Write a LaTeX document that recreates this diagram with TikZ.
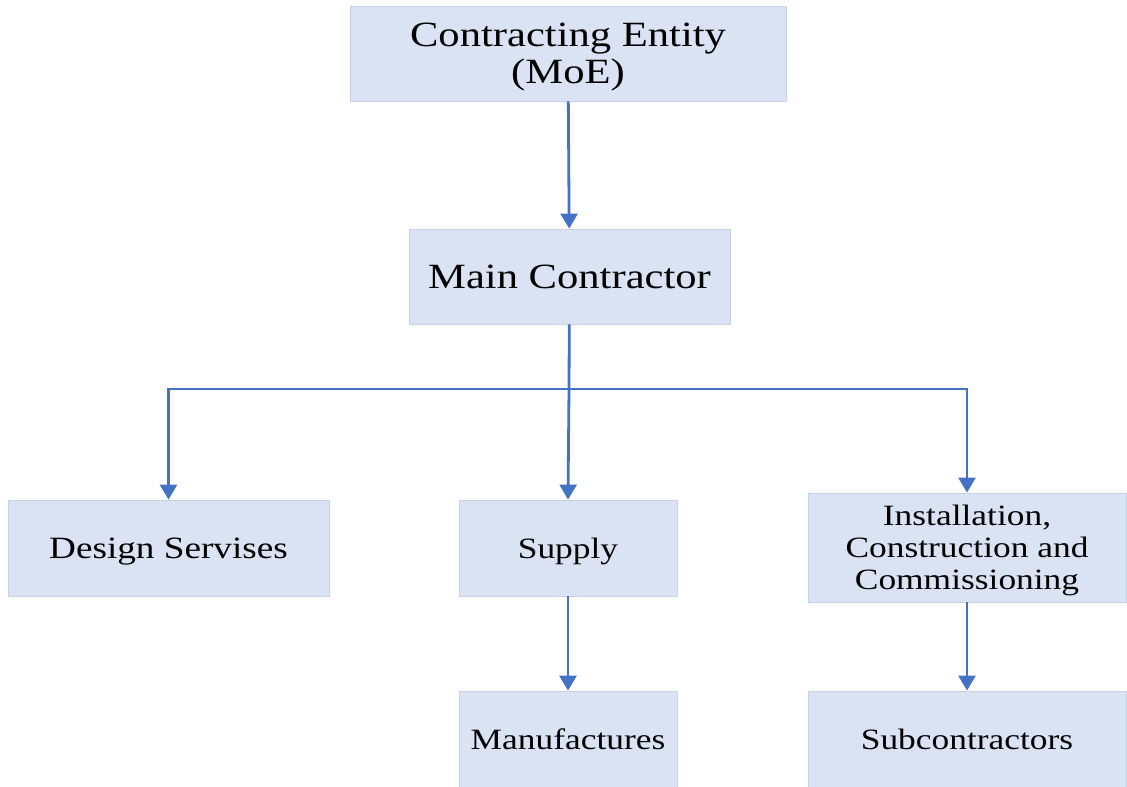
\documentclass[tikz,border=0pt]{standalone}
\usepackage{fontspec}
\setmainfont{Liberation Serif}[FakeStretch=1.2]
\usetikzlibrary{arrows.meta}

\definecolor{boxfill}{HTML}{DAE3F3}
\definecolor{boxline}{HTML}{C8D2E6}
\definecolor{linkblue}{HTML}{4472C4}

\tikzset{
  orgbox/.style={draw=boxline, line width=0.8pt, fill=boxfill, inner sep=0pt,
    align=center, text depth=0pt, font=\fontsize{29.5}{32}\selectfont},
  link/.style={draw=linkblue, line width=2.8pt,
    -{Triangle[length=15pt,width=17pt]}}
}

\begin{document}
\begin{tikzpicture}[x=1pt,y=-1pt]

      \useasboundingbox (0,0) rectangle (1127,787);

      % The contracting entity on top.
      \node [orgbox, minimum width=436pt, minimum height=95pt,
        font=\fontsize{35.5}{37}\selectfont] (ce) at (568,53.5)
        {Contracting Entity\\(MoE)};

      % The main contractor.
      \node [orgbox, minimum width=321pt, minimum height=95pt,
        font=\fontsize{35.5}{37}\selectfont] (mc) at (569.5,276.5)
        {Main Contractor};

      % The three branches.
      \node [orgbox, minimum width=321pt, minimum height=96pt,
        font=\fontsize{31}{32}\selectfont] (ds)
        at (168.5,548) {Design Servises};
      \node [orgbox, minimum width=218pt, minimum height=96pt] (sup)
        at (568,548) {Supply};
      \node [orgbox, minimum width=318pt, minimum height=109pt] (ics)
        at (967,547.5) {Installation,\\Construction and\\Commissioning};

      % The bottom row.
      \node [orgbox, minimum width=218pt, minimum height=96pt] (man)
        at (568,739) {Manufactures};
      \node [orgbox, minimum width=318pt, minimum height=96pt] (sub)
        at (967,739) {Subcontractors};

      \coordinate (split) at (569,389);

      \draw [link] (ce) -- (mc);
      \draw [link, -] (mc) -- (split);
      \draw [link] (split) -| (ds);
      \draw [link] (split) -- (sup.north);
      \draw [link] (split) -| (ics);
      \draw [link] (sup) -- (man);
      \draw [link] (ics) -- (sub);

    \end{tikzpicture}
\end{document}
